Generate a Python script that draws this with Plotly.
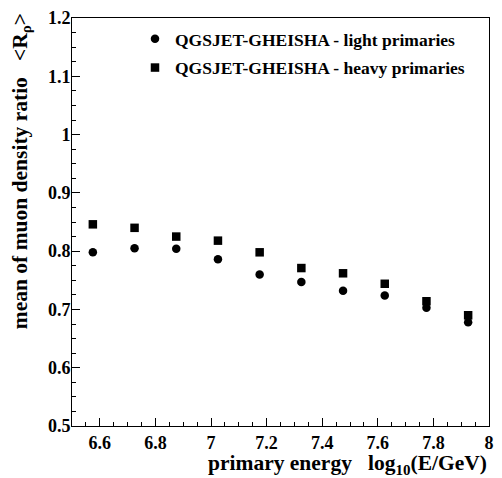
import plotly.graph_objects as go

energy = [6.575, 6.725, 6.875, 7.025, 7.175, 7.325, 7.475, 7.625, 7.775, 7.925]
light = [0.798, 0.805, 0.804, 0.786, 0.760, 0.747, 0.732, 0.724, 0.703, 0.678]
heavy = [0.846, 0.840, 0.825, 0.818, 0.798, 0.771, 0.762, 0.744, 0.714, 0.690]
light_name = "QGSJET-GHEISHA - light primaries"
heavy_name = "QGSJET-GHEISHA - heavy primaries"
x_ticks = [6.6, 6.8, 7.0, 7.2, 7.4, 7.6, 7.8, 8.0]
x_labels = ["6.6", "6.8", "7", "7.2", "7.4", "7.6", "7.8", "8"]
y_ticks = [0.5, 0.6, 0.7, 0.8, 0.9, 1.0, 1.1, 1.2]
y_labels = ["0.5", "0.6", "0.7", "0.8", "0.9", "1", "1.1", "1.2"]

FONT = "Liberation Serif"
W, H = 502, 478
ML, MR, MT, MB = 72, 13, 8, 52
pw, ph = W - ML - MR, H - MT - MB

fig = go.Figure()
fig.add_trace(go.Scatter(x=energy, y=light, mode="markers", name="<b>" + light_name + "</b>",
                         legendgroup="a",
                         marker=dict(symbol="circle", size=8.5, color="black")))
fig.add_trace(go.Scatter(x=energy, y=heavy, mode="markers", name="<b>" + heavy_name + "</b>",
                         legendgroup="b",
                         marker=dict(symbol="square", size=8.5, color="black")))

axis_common = dict(
    showgrid=False, zeroline=False, showline=True, linecolor="black", linewidth=1,
    mirror=True, ticks="inside", ticklen=8, tickcolor="black", tickwidth=1,
    ticklabeloverflow="allow",
    tickfont=dict(family=FONT, size=18, color="black"),
)
fig.update_xaxes(range=[6.5, 8], tickmode="array", tickvals=x_ticks,
                 ticktext=["<b>" + t + "</b>" for t in x_labels],
                 minor=dict(dtick=0.05, tick0=6.5, ticks="inside", ticklen=4, tickcolor="black"),
                 **axis_common)
fig.update_yaxes(range=[0.5, 1.2], tickmode="array", tickvals=y_ticks,
                 ticktext=["<b>" + t + "</b>" for t in y_labels],
                 ticklabelstandoff=-3,
                 minor=dict(dtick=0.025, tick0=0.5, ticks="inside", ticklen=4, tickcolor="black"),
                 **axis_common)

fig.add_annotation(text="<b>mean of muon density ratio   &lt;R<sub>ρ</sub>&gt;</b>",
                   textangle=-90, xref="paper", yref="paper",
                   x=(21 - ML) / pw, y=(MT + ph - 1) / ph,
                   xanchor="center", yanchor="top", showarrow=False,
                   font=dict(family=FONT, size=21.5, color="black"))
fig.add_annotation(text="<b>primary energy   log<sub>10</sub>(E/GeV)</b>",
                   xref="paper", yref="paper",
                   x=(489 - ML) / pw, y=(MT + ph - 465) / ph,
                   xanchor="right", yanchor="middle", showarrow=False,
                   font=dict(family=FONT, size=21.5, color="black"))

fig.update_layout(
    width=W, height=H,
    margin=dict(l=ML, r=MR, t=MT, b=MB),
    plot_bgcolor="white", paper_bgcolor="white",
    legend=dict(x=(135 - ML) / pw, y=(MT + ph - 11) / ph, xanchor="left", yanchor="top",
                bgcolor="rgba(0,0,0,0)", traceorder="grouped", tracegroupgap=3,
                font=dict(family=FONT, size=17.5, color="black")),
    showlegend=True,
)

fig.write_html("out.html")
